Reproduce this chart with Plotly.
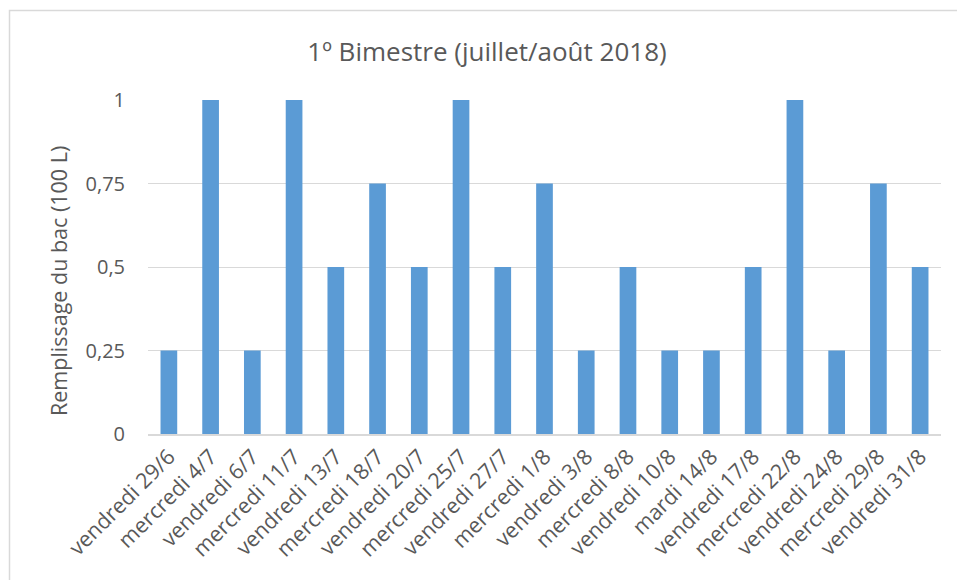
import plotly.graph_objects as go

# Collection days and the fill level of the tank (units of 100 L)
jours = [
    "vendredi 29/6", "mercredi 4/7", "vendredi 6/7", "mercredi 11/7",
    "vendredi 13/7", "mercredi 18/7", "vendredi 20/7", "mercredi 25/7",
    "vendredi 27/7", "mercredi 1/8", "vendredi 3/8", "mercredi 8/8",
    "vendredi 10/8", "mardi 14/8", "vendredi 17/8", "mercredi 22/8",
    "vendredi 24/8", "mercredi 29/8", "vendredi 31/8",
]
remplissage = [
    0.25, 1, 0.25, 1, 0.5, 0.75, 0.5, 1, 0.5, 0.75,
    0.25, 0.5, 0.25, 0.25, 0.5, 1, 0.25, 0.75, 0.5,
]
y_ticks = [0, 0.25, 0.5, 0.75, 1]
y_tick_labels = ["0", "0,25", "0,5", "0,75", "1"]

W, H = 957, 580
L, R, T, B = 148, 16, 100, 146
pw, ph = W - L - R, H - T - B

def px_x(x):
    return (x - L) / pw

def px_y(y):
    return (H - B - y) / ph

FONT = "Open Sans"
GREY = "#595959"

fig = go.Figure(
    go.Bar(
        x=jours,
        y=remplissage,
        marker=dict(color="#5B9BD5", line=dict(width=0)),
    )
)

fig.update_layout(
    width=W,
    height=H,
    margin=dict(l=L, r=R, t=T, b=B),
    paper_bgcolor="white",
    plot_bgcolor="white",
    bargap=0.6,
    showlegend=False,
    font=dict(family=FONT, color=GREY),
    title=dict(
        text="1º Bimestre (juillet/août 2018)",
        x=487 / W,
        xanchor="center",
        y=1 - 52 / H,
        yanchor="middle",
        font=dict(family=FONT, size=26, color=GREY),
    ),
    xaxis=dict(
        tickangle=-45,
        tickfont=dict(family=FONT, size=21.5, color=GREY),
        showgrid=False,
        showline=True,
        linecolor="#D9D9D9",
        linewidth=1.5,
        ticks="",
        automargin=False,
    ),
    yaxis=dict(
        range=[0, 1],
        tickvals=y_ticks,
        ticktext=y_tick_labels,
        tickfont=dict(family=FONT, size=20, color=GREY),
        showgrid=True,
        gridcolor="#D9D9D9",
        gridwidth=1,
        zeroline=False,
        showline=False,
        ticks="",
        ticklabelstandoff=22,
        automargin=False,
    ),
    annotations=[
        dict(
            text="Remplissage du bac (100 L)",
            textangle=-90,
            xref="paper",
            yref="paper",
            x=px_x(58),
            y=px_y(281),
            xanchor="center",
            yanchor="middle",
            showarrow=False,
            font=dict(family=FONT, size=21.5, color=GREY),
        )
    ],
    shapes=[
        dict(
            type="rect",
            xref="paper",
            yref="paper",
            x0=px_x(9.5),
            x1=px_x(W + 5),
            y0=px_y(H + 5),
            y1=px_y(10.5),
            line=dict(color="#D9D9D9", width=1.5),
            fillcolor="rgba(0,0,0,0)",
            layer="below",
        )
    ],
)

fig.write_html("out.html")
